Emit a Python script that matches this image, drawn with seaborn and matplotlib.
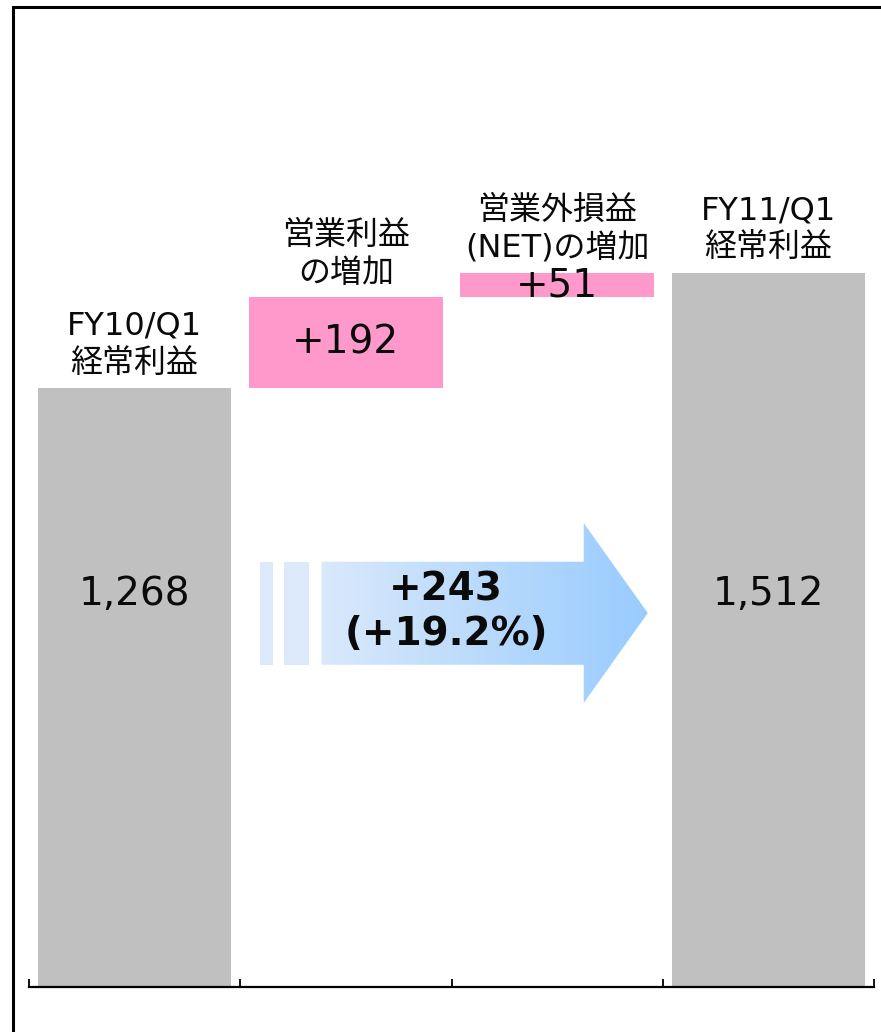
import numpy as np
import pandas as pd
import matplotlib
matplotlib.use("Agg")
import matplotlib.pyplot as plt
import seaborn as sns
from matplotlib.patches import Polygon, Rectangle
from matplotlib.colors import LinearSegmentedColormap

# ---- data ----
categories = ["FY10/Q1\n経常利益", "営業利益\nの増加", "営業外損益\n(NET)の増加", "FY11/Q1\n経常利益"]
values = [1268, 192, 51, 1512]
kinds = ["total", "delta", "delta", "total"]
value_labels = ["1,268", "+192", "+51", "1,512"]
change_label = "+243\n(+19.2%)"

sns.set_style("white")
plt.rcParams["font.family"] = ["DejaVu Sans", "Noto Sans CJK JP"]

W, H = 881, 1032
fig = plt.figure(figsize=(W / 100, H / 100), dpi=100)
ax = fig.add_axes([29 / W, 45 / H, 845 / W, 945 / H])

# bottoms of floating bars
bottoms = []
running = 0
for v, k in zip(values, kinds):
    if k == "total":
        bottoms.append(0)
        running = v
    else:
        bottoms.append(running)
        running += v

colors = {"total": "#c0c0c0", "delta": "#ff99cc"}
for cat, v, b, k in zip(categories, values, bottoms, kinds):
    sns.barplot(x=[cat], y=[v], order=categories, color=colors[k], width=0.915,
                bottom=b, errorbar=None, linewidth=0, saturation=1, ax=ax)

ax.set_xlim(-0.5, 3.5)
ax.set_ylim(0, 2000)

# category labels above bars
for i, (cat, v, b) in enumerate(zip(categories, values, bottoms)):
    ax.annotate(cat, xy=(i, b + v), xytext=(0, 6), textcoords="offset points",
                ha="center", va="bottom", fontsize=23, linespacing=1.3, color="#0a0a0a")

# value labels
for i, (lab, v, b, k) in enumerate(zip(value_labels, values, bottoms, kinds)):
    y = 832 if k == "total" else b + v / 2
    ax.text(i, y, lab, ha="center", va="center", fontsize=28, color="#0a0a0a")

# gradient arrow
x0, xb, xt = 0.884, 2.126, 2.429
yb0, yb1, yh0, yh1 = 682, 900, 601, 982
ymid = (yh0 + yh1) / 2
arrow_pts = [(x0, yb0), (xb, yb0), (xb, yh0), (xt, ymid), (xb, yh1), (xb, yb1), (x0, yb1)]
poly = Polygon(arrow_pts, closed=True, facecolor="none", edgecolor="none")
ax.add_patch(poly)
cmap = LinearSegmentedColormap.from_list("blu", ["#dae9fb", "#b9dafc", "#99ccff"])
grad = np.linspace(0, 1, 256).reshape(1, -1)
im = ax.imshow(grad, extent=[x0, xt, yh0, yh1], aspect="auto", cmap=cmap,
               origin="lower", zorder=2)
im.set_clip_path(poly)
for sx0, sx1 in [(0.593, 0.655), (0.707, 0.825)]:
    ax.add_patch(Rectangle((sx0, yb0), sx1 - sx0, yb1 - yb0, facecolor="#dce9fb",
                           edgecolor="none", zorder=2))
ax.text(1.474, (yb0 + yb1) / 2 + 3, change_label, ha="center", va="center",
        fontsize=28, fontweight="bold", linespacing=1.2, color="#0a0a0a", zorder=3)

ax.set_xlim(-0.5, 3.5)
ax.set_ylim(0, 2000)

# axis styling
ax.set_xticks([-0.5, 0.5, 1.5, 2.5, 3.5])
ax.set_xticklabels([])
ax.set_yticks([])
ax.set_xlabel("")
ax.set_ylabel("")
for s in ["left", "right", "top"]:
    ax.spines[s].set_visible(False)
ax.spines["bottom"].set_linewidth(1.6)
ax.spines["bottom"].set_color("black")
ax.tick_params(axis="x", direction="in", length=6, width=1.3, color="black", bottom=True)

# outer frame (extends past right/bottom edges)
fig.patches.append(Rectangle((13 / W, -0.1), 1.2, 1 - 7 / H + 0.1, transform=fig.transFigure,
                             fill=False, edgecolor="black", linewidth=2.2))

fig.savefig("out.png", dpi=100)
